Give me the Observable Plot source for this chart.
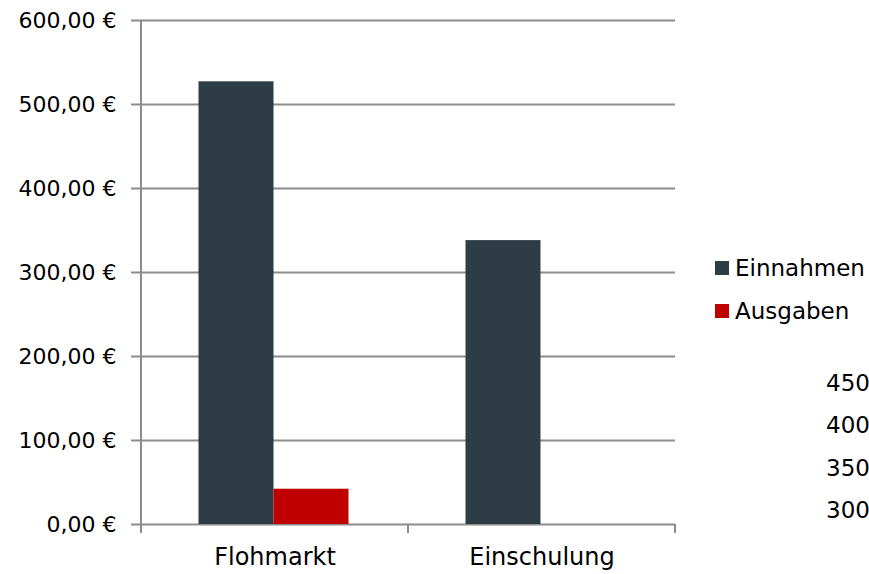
<!DOCTYPE html>
<html>
<head>
<meta charset="utf-8">
<script src="https://cdn.jsdelivr.net/npm/d3@7"></script>
<script src="https://cdn.jsdelivr.net/npm/@observablehq/plot@0.6"></script>
<style>
  html, body { margin: 0; padding: 0; background: #fff; overflow: hidden; }
  #wrap { position: relative; width: 869px; height: 574px; overflow: hidden;
          font-family: "DejaVu Sans", sans-serif; font-size: 23px; color: #000; }
  #chart { position: absolute; left: 0; top: 0; }
  .legend { position: absolute; left: 715px; }
  .legend .item { position: absolute; left: 0; white-space: nowrap; display: flex; align-items: center; height: 26px; }
  .legend .sw { width: 14px; height: 14px; margin-right: 6px; }
  .extra { position: absolute; left: 826px; white-space: nowrap; line-height: 26px; }
</style>
</head>
<body>
<div id="wrap">
  <div id="chart"></div>
  <div class="legend" id="legend"></div>
  <div id="extras"></div>
</div>
<script>
const categories = ["Flohmarkt", "Einschulung"];
const series = ["Einnahmen", "Ausgaben"];
const einnahmen = [527, 338];
const ausgaben = [42, 0];
const colors = ["#2e3d45", "#c00000"];
const yTicks = [0, 100, 200, 300, 400, 500, 600];
const extraLabels = ["450", "400", "350", "300"];

const data = [];
categories.forEach((c, i) => {
  data.push({category: c, series: series[0], value: einnahmen[i]});
  data.push({category: c, series: series[1], value: ausgaben[i]});
});

const fmt = d => d.toFixed(2).replace(".", ",") + " €";
const gridColor = "#8c8c8c";

const chart = Plot.plot({
  width: 869,
  height: 574,
  marginLeft: 141,
  marginRight: 194,
  marginTop: 20,
  marginBottom: 50,
  style: {fontFamily: '"DejaVu Sans", sans-serif', fontSize: "22px", color: "#000", background: "#fff"},
  fx: {domain: categories, padding: 0, label: null},
  x: {domain: series, paddingInner: 0, paddingOuter: 0.757, axis: null},
  y: {domain: [0, 600], label: null},
  color: {domain: series, range: colors},
  marks: [
    Plot.ruleY(yTicks, {stroke: gridColor, strokeWidth: 2, strokeOpacity: 1}),
    Plot.barY(data, {fx: "category", x: "series", y: "value", fill: "series", inset: 0, dx: -1.5}),
    Plot.axisY({ticks: yTicks, tickFormat: fmt, tickSize: 10, tickPadding: 15, stroke: gridColor, strokeWidth: 2, fontSize: 22, label: null}),
    Plot.axisFx({anchor: "bottom", tickSize: 0, tickPadding: 23, fontSize: 24, label: null})
  ]
});
document.getElementById("chart").appendChild(chart);

// axis line and category boundary ticks, positioned via the fx / y scales
const fx = chart.scale("fx");
const ys = chart.scale("y");
const svg = d3.select(chart);
const y0 = ys.apply(0), yTop = ys.apply(600);
const g = svg.append("g").attr("stroke", gridColor).attr("stroke-width", 2);
const edges = categories.map(c => fx.apply(c));
edges.push(fx.apply(categories[categories.length - 1]) + fx.bandwidth);
g.append("line").attr("x1", edges[0]).attr("x2", edges[0]).attr("y1", yTop).attr("y2", y0 + 9);
edges.forEach(x => {
  g.append("line").attr("x1", x).attr("x2", x).attr("y1", y0).attr("y2", y0 + 9);
});

// legend
const legend = document.getElementById("legend");
series.forEach((s, i) => {
  const it = document.createElement("div");
  it.className = "item";
  it.style.top = (255 + i * 43) + "px";
  it.innerHTML = `<span class="sw" style="background:${colors[i]}"></span><span>${s}</span>`;
  legend.appendChild(it);
});

// clipped labels from neighbouring chart
const extras = document.getElementById("extras");
extraLabels.forEach((t, i) => {
  const d = document.createElement("div");
  d.className = "extra";
  d.style.top = (370 + i * 42.3) + "px";
  d.textContent = t;
  extras.appendChild(d);
});
</script>
</body>
</html>
